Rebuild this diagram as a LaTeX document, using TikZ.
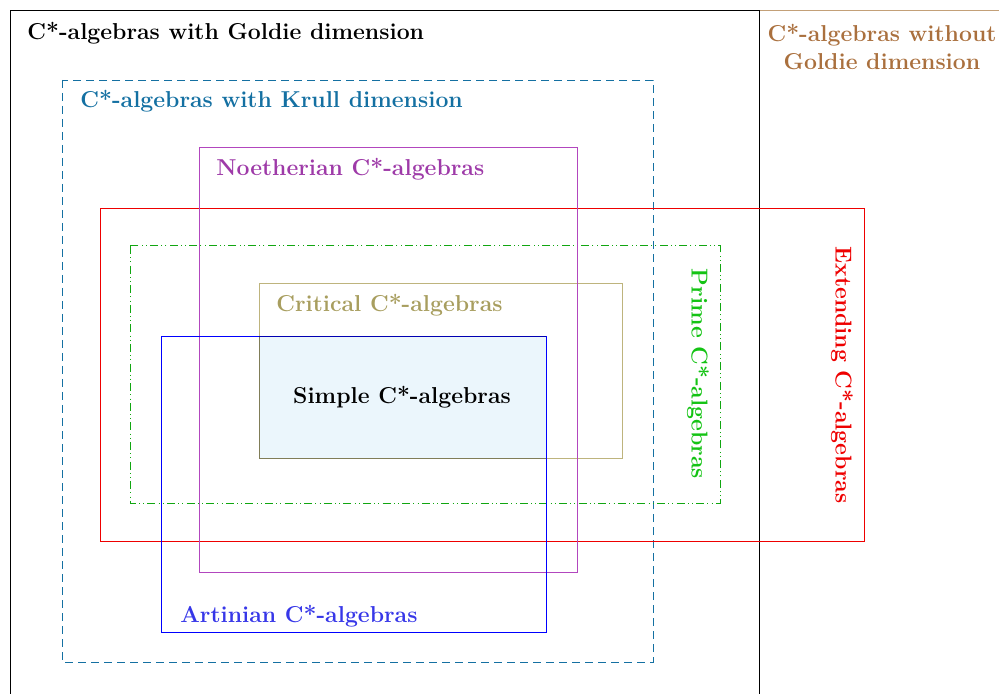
\documentclass[tikz,border=0pt]{standalone}
\definecolor{krullc}{RGB}{20,112,162}
\definecolor{noethc}{RGB}{158,58,168}
\definecolor{noethl}{RGB}{178,70,190}
\definecolor{critc}{RGB}{168,158,95}
\definecolor{critl}{RGB}{190,180,125}
\definecolor{artc}{RGB}{55,55,232}
\definecolor{brownc}{RGB}{170,112,62}
\definecolor{brownl}{RGB}{195,160,120}
\definecolor{primec}{RGB}{20,195,20}
\definecolor{extc}{RGB}{238,0,0}
\definecolor{simplef}{RGB}{235,246,252}
\definecolor{simplel}{RGB}{128,125,88}
\tikzset{
  lbl/.style={font=\fontsize{11.5pt}{13.8pt}\selectfont\bfseries, inner sep=0pt},
  boxline/.style={line width=0.5pt},
}
\begin{document}
\begin{tikzpicture}[x=0.5pt,y=-0.5pt]
\useasboundingbox (0,0) rectangle (999,694);
\clip (0,0) rectangle (999,694);
% without Goldie
\draw[brownl, boxline] (759,11) rectangle (1020,720);
% Goldie
\draw[black, boxline] (10,11) rectangle (759,720);
% Krull
\draw[krullc, line width=0.45pt, dash pattern=on 4pt off 2.5pt] (62,80) rectangle (653,662);
% Extending
\draw[extc, boxline] (100,209) rectangle (864,541);
% Prime
\draw[primec!85!black, boxline, dash pattern=on 4pt off 1.6pt on 0.5pt off 1.6pt on 0.5pt off 1.6pt] (130,246) rectangle (720,503);
% Critical
\draw[critl, boxline] (259,284) rectangle (622,458);
% Simple
\fill[simplef] (259,337) rectangle (546,458);
% Noetherian
\draw[noethl, boxline] (199,148) rectangle (577,572);
% Artinian
\draw[blue, boxline] (161,337) rectangle (546,632);
% Simple border
\draw[simplel, boxline] (546,458) -- (259,458) -- (259,337);
\draw[blue!70!black, boxline] (259,337) -- (546,337);

\node[lbl, anchor=base west] (goldie) at (27,40) {C*-algebras with Goldie dimension};
\node[lbl, text=brownc, align=center, anchor=north] (nogoldie) at (882,24) {C*-algebras without\\Goldie dimension};
\node[lbl, text=krullc, anchor=base west] (krull) at (80,108) {C*-algebras with Krull dimension};
\node[lbl, text=noethc, anchor=base west] (noeth) at (216,176) {Noetherian C*-algebras};
\node[lbl, text=critc, anchor=base west] (crit) at (276,312) {Critical C*-algebras};
\node[lbl] (simple) at (402,397) {Simple C*-algebras};
\node[lbl, text=artc, anchor=base west] (art) at (180,622) {Artinian C*-algebras};
\node[lbl, text=primec, rotate=-90] (prime) at (698,374) {Prime C*-algebras};
\node[lbl, text=extc, rotate=-90] (ext) at (842,375) {Extending C*-algebras};
\end{tikzpicture}
\end{document}
